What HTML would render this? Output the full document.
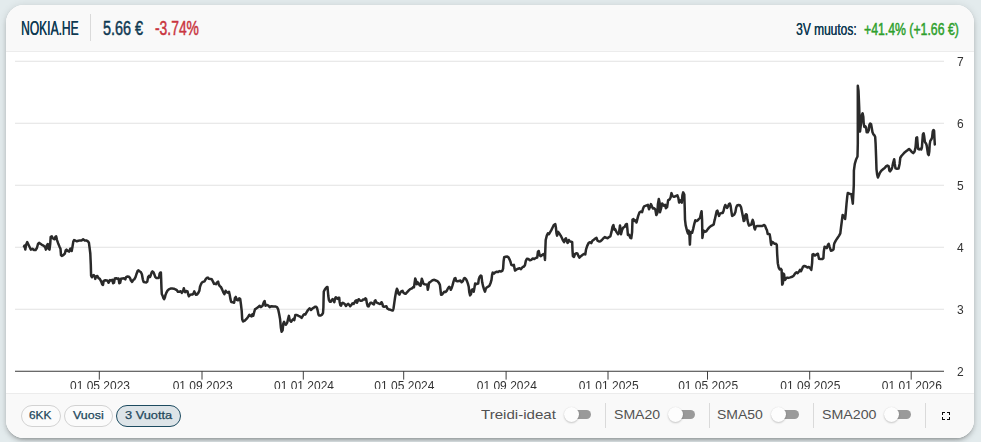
<!DOCTYPE html>
<html lang="fi">
<head>
<meta charset="utf-8">
<title>NOKIA.HE</title>
<style>
  html, body { margin: 0; padding: 0; }
  body {
    width: 981px; height: 442px; overflow: hidden; position: relative;
    background: #e3ebed;
    font-family: "Liberation Sans", sans-serif;
  }
  .card {
    position: absolute; left: 6px; top: 5px; width: 968px; height: 433px;
    background: #ffffff; border-radius: 18px; overflow: hidden;
  }
  .shadow {
    position: absolute; left: 6px; top: 5px; width: 968px; height: 433px;
    border-radius: 18px;
    box-shadow: 0 3px 3px -2px rgba(0,0,0,.2), 0 3px 4px 0 rgba(0,0,0,.14), 0 1px 8px 0 rgba(0,0,0,.12);
  }
  .head {
    position: absolute; left: 0; top: 0; width: 968px; height: 46px;
    background: #f9f9f9; border-bottom: 1px solid #ececec;
  }
  .foot {
    position: absolute; left: 0; top: 388px; width: 968px; height: 44px;
    background: #f9f9f9; border-top: 1px solid #ececec;
  }
  /* condensed header text: Liberation Sans squeezed horizontally */
  .hx {
    position: absolute; white-space: nowrap; line-height: 1;
    display: inline-block;
  }
  .l { transform-origin: 0 0; }
  .w1 { text-shadow: 0.4px 0 0 currentColor; }
  .w2 { -webkit-text-stroke: 0.5px currentColor; }
  .r { transform-origin: 100% 0; }
  .navy { color: #0f3a53; }
  .red { color: #c9353f; }
  .green { color: #2ea02c; }
  .vsep { position: absolute; width: 1px; background: #dadada; }
  svg { position: absolute; left: 0; top: 0; will-change: transform; }
  .btn {
    position: absolute; top: 400px; height: 20px; border: 1px solid #d2d2d2;
    border-radius: 11px; background: #fbfbfb; box-sizing: content-box;
  }
  .btn.on { border: 1.5px solid #1d4b60; background: #dde4e8; top: 399.5px; }
  .ft { position: absolute; white-space: nowrap; line-height: 1; transform-origin: 0 0; display: inline-block; }
  .teal { color: #23485c; -webkit-text-stroke: 0.25px currentColor; }
  .grey { color: #515151; }
  .track { position: absolute; height: 9px; width: 25px; border-radius: 4.5px; background: #9a9a9a; top: 405px; }
  .knob { position: absolute; width: 15px; height: 15px; border-radius: 50%; background: #fdfdfd; top: 401.9px;
          box-shadow: 0 1px 2px rgba(0,0,0,.2), 0 0 1px rgba(0,0,0,.1); }
</style>
</head>
<body>
<div class="shadow"></div>
<div class="card">
  <div class="head"></div>
  <div class="foot"></div>

  <!-- header texts (coordinates relative to card: page x-6, page y-5) -->
  <span id="t1" class="hx l w1 navy" style="transform:scaleX(0.6172);left:15px;top:14.25px;font-size:19.5px;">NOKIA.HE</span>
  <div class="vsep" style="left:84px;top:9px;height:27px;"></div>
  <span id="t2" class="hx l w2 navy" style="transform:scaleX(0.7398);left:96.6px;top:14.25px;font-size:19.5px;">5.66 €</span>
  <span id="t3" class="hx l w2 red" style="transform:scaleX(0.7107);left:148.6px;top:14.25px;font-size:19.5px;">-3.74%</span>
  <span id="t4" class="hx l w1 navy" style="transform:scaleX(0.7127);left:789.7px;top:16.5px;font-size:16.8px;">3V muutos:</span>
  <span id="t5" class="hx l w2 green" style="transform:scaleX(0.731);left:858.2px;top:16.5px;font-size:16.8px;">+41.4% (+1.66 €)</span>

  <!-- chart -->
  <svg id="chart" width="968" height="384" viewBox="6 5 968 384" style="left:0;top:0;">
    <g stroke="#e2e2e2" stroke-width="1" shape-rendering="auto">
      <line x1="15" y1="61.25" x2="944" y2="61.25"/>
      <line x1="15" y1="123.25" x2="944" y2="123.25"/>
      <line x1="15" y1="185.25" x2="944" y2="185.25"/>
      <line x1="15" y1="247.25" x2="944" y2="247.25"/>
      <line x1="15" y1="309.25" x2="944" y2="309.25"/>
    </g>
    <line x1="15" y1="371.25" x2="944" y2="371.25" stroke="#3a3a3a" stroke-width="1"/>
    <g stroke="#3f3f3f" stroke-width="1">
      <line x1="99.3" y1="371" x2="99.3" y2="379.6"/>
      <line x1="202.0" y1="371" x2="202.0" y2="379.6"/>
      <line x1="303.3" y1="371" x2="303.3" y2="379.6"/>
      <line x1="403.7" y1="371" x2="403.7" y2="379.6"/>
      <line x1="506.1" y1="371" x2="506.1" y2="379.6"/>
      <line x1="608.0" y1="371" x2="608.0" y2="379.6"/>
      <line x1="707.5" y1="371" x2="707.5" y2="379.6"/>
      <line x1="809.7" y1="371" x2="809.7" y2="379.6"/>
      <line x1="911.2" y1="371" x2="911.2" y2="379.6"/>
    </g>
    <g font-family="Liberation Sans, sans-serif" font-size="12" fill="#333333">
      <g text-anchor="start">
        <text x="957" y="66">7</text>
        <text x="957" y="128">6</text>
        <text x="957" y="190">5</text>
        <text x="957" y="252">4</text>
        <text x="957" y="314">3</text>
        <text x="957" y="376">2</text>
      </g>
      <g text-anchor="middle" xml:space="preserve">
        <text x="100.0" y="390">01 05 2023</text>
        <text x="202.7" y="390">01 09 2023</text>
        <text x="304.0" y="390">01 01 2024</text>
        <text x="404.4" y="390">01 05 2024</text>
        <text x="506.8" y="390">01 09 2024</text>
        <text x="608.7" y="390">01 01 2025</text>
        <text x="708.2" y="390">01 05 2025</text>
        <text x="810.4" y="390">01 09 2025</text>
        <text x="911.9" y="390">01 01 2026</text>
      </g>
    </g>
    <polyline id="price" fill="none" stroke="#2a2a2a" stroke-width="2.5" stroke-linejoin="round" stroke-linecap="round"
      points="24,246.4 24.5,245.6 25.3,249.6 26.1,244.8 27.2,242.1 28.5,244.8 30.1,248 30.8,249.6 32.4,248.8 34,249.9 35.6,250 36.9,248 38,244 39.1,242.9 40.4,243.7 41.9,244.8 43.5,245.6 45.1,247.2 45.9,249.6 46.7,245.6 47.8,244 48.6,248.8 49.5,249.6 50.2,244 50.7,236.9 51.8,236.4 53,238.5 54.6,239.3 55.4,236.9 56.2,236.4 57,240.1 58.1,243.2 59.4,246.4 60.5,248.8 61,255.1 61.8,255.9 63.3,255.1 64.9,253.5 65.7,250.4 66.5,249.6 68.1,251.1 69.2,251.6 70.2,248.8 71.3,248.5 71.7,251.1 72.4,247.2 73.3,241.6 74.1,240.1 75.2,240.5 76.8,241.3 78.4,240.8 80,240.4 81.6,240.4 83.1,239.3 84.7,240.5 86.3,240.4 87.9,241.3 88.9,242.7 89.5,247.2 90.3,253.5 90.8,264.6 91.1,275.7 91.9,277.3 93,275.4 93.8,275.1 94.7,276.5 95.3,278.9 96.1,276.5 97.4,276 98.5,278.1 99.8,278.9 101.1,281.3 102.2,284.4 103,284.9 103.7,280.8 105.3,280.2 106.6,280.5 107.7,280.8 108.5,282.8 109.6,280.8 110,280.1 111.1,280.5 112.3,279.7 113.1,283.3 114,282.7 114.8,278.5 116.2,278.2 117.4,278.8 118.5,278.5 119.3,283.3 120.2,282.7 121,278.8 122.4,278.5 124.1,278.2 125.3,279.3 126.1,277.1 127.5,276.5 129,276.7 130.1,278.2 130.9,280.5 132.1,281.9 133.2,280.1 134.3,279.3 135.5,277.1 136.6,273.7 137.7,270.8 138.5,270.3 139.6,271.4 140.8,272 141.9,274.2 142.8,279.3 143.6,281.9 145.1,282.2 146.4,282.4 147.3,281.6 148.1,277.1 149,275.9 149.9,277.1 150.7,275.4 151.6,272.5 152.4,271.4 153.6,272.5 154.5,274.8 155.3,277.1 156.4,277.9 158.1,278 159,277.6 159.6,273.7 160.4,272.5 160.9,272.5 161.1,277.6 161.5,288.9 161.8,294 162.6,295.7 163.4,298 164.1,299.1 164.9,297.4 165.4,295.2 166.3,292.9 167.5,290.6 168.8,289.3 170.5,288.6 172.2,288.6 173.9,288.7 175.4,289.3 176.8,290.1 177.9,291.8 179.2,291.8 180.7,291.2 181.8,292.9 183,291.2 183.8,288.2 184.5,290.6 185.2,292.1 186.4,291 187.5,291.4 188.1,294 188.9,296.3 189.8,295.2 190.9,294.6 192.4,294.6 193.5,293.5 194.3,291.4 195.1,293.2 196,294.8 196.9,294.6 198.3,292.9 199.4,290.6 200,286.7 200.9,284.4 201.9,282.5 203,281.9 204.5,281.3 205.6,279.3 206.7,278 207.9,277.6 209,278.8 210.7,279.1 211.8,279.3 213,281.6 214.1,283.9 214.7,283.7 215.9,284.2 217.1,282.5 218.1,281.6 218.8,284.5 219.8,286.2 221,287.1 222.2,289.6 223.2,292.1 224.4,294.2 225.6,290.8 226.6,292.1 227.8,292.7 229,291.8 229.7,294.7 230.4,298.9 231.2,302 232.9,302.3 234.1,302.7 234.9,298.1 235.8,296.9 236.8,299.8 238,300.3 239.2,298.4 240.2,298.9 240.9,304 241.7,310.8 242.2,319.3 243.1,321.5 244.8,320.6 246.5,318.9 248.2,316.7 249.4,314.7 250.4,315.9 251.6,316.4 252.4,314.2 253.3,315.6 254.1,312.5 255,309.4 256.6,308.3 258.3,307.1 259.5,305.7 260.9,307.1 262.6,305.7 263.9,302 264.6,301.1 265.5,305.7 266.8,304.9 268.5,305.7 269.7,307.1 271.4,306.2 273.6,306.6 275.8,306.6 277,307.1 278.2,309.4 279.2,314.2 280.1,319.3 280.9,327.8 281.6,331.7 282.6,330.3 283.3,323.5 284.1,321.8 285,324.4 286,324.7 287.2,322.7 288,319.3 288.9,315.9 289.7,320.1 291.1,321.8 292.3,320.1 293.5,318.9 294.3,320.1 295.3,315 296.9,315 298.5,315.9 300.2,316.7 301.6,317.9 303,315.6 304.1,314.2 305.3,314.5 306.7,312.2 308,310 309.6,308.3 310.9,310 312.6,308.3 314.3,307.4 314.8,306.8 316.2,306.8 317,307.9 317.7,310.7 318.5,314.7 319.3,315.6 320.7,315.5 321.9,314.7 323,313 323.4,307.3 323.6,298.3 323.8,291.5 324.7,289.8 325.8,288.1 327,287 327.5,287 327.9,291.5 328.3,296 328.9,300 329.8,301.7 330.9,301.7 331.7,300 332.6,299.2 333.5,300.5 334.3,302.2 335.1,298.3 335.8,297.2 336.6,298.1 337.4,298.9 338.3,297.7 339.2,297.7 339.6,301.7 340.3,305.1 341.1,305.6 341.9,303.4 342.8,302.8 343.9,303.4 345.1,304.5 346,306 347.1,304.5 348.2,303.9 349.4,305.1 350.2,306.2 351.3,305.1 352.4,303.4 353.6,303.9 354.4,302.8 355.3,301.1 356.4,300.3 357,302.8 357.7,301.1 358.7,299.2 359.8,300.3 360.9,300.8 362.3,300.5 363.2,299.4 364.3,299.6 365.4,298.3 366.2,299.2 366.9,303.4 367.7,306.2 368.6,306.4 369.7,303.9 370.5,302.8 371.7,302.8 372.8,303.9 373.9,304.5 374.7,301.1 375.4,300.3 376.2,302.2 377.3,302.8 378.5,303.4 379.6,303.9 380.7,303.7 381.5,302.2 382.4,303.9 383,306.4 384.1,306.8 385.2,306.4 386.4,306.2 387.2,308.2 388.1,309 389.2,309.6 390.6,309.8 392,310.4 392.9,310.5 393.5,308.5 394.3,302.8 395.1,297.2 396,292.1 396.9,288.7 397.7,290.4 398.3,293.5 399.4,294.7 400.3,292.6 401.4,291.3 402.6,290.9 403.3,292.6 404.5,293.5 405.6,293.8 406.7,292.6 407.9,291.3 409,290.1 410.1,289.2 411.3,288.7 412.4,288.1 413.5,286.7 414,287.1 414.7,282.3 415.2,278.6 416,280.5 416.8,284.2 417.7,282.3 418.7,283.6 419.7,285.4 420.6,285.8 421.2,282.3 421.8,278.8 422.7,281.1 423.4,283.8 424.7,284.2 426.2,284.6 427.2,284.8 427.8,289.8 428.4,287.3 428.9,282.9 430.2,282.1 431.4,281.1 432.6,280.2 434.3,279.8 435.9,280.5 437.4,281.1 438.9,282.9 439.9,284.8 440.5,289.8 441.1,294.8 442.1,294.5 443.3,292.9 444.2,291.7 445.5,292 446.7,290.8 447.9,288.5 449.2,286.7 450.1,287.9 450.8,289.8 451.7,287.9 452.5,285.4 453.5,281.7 454.5,278.6 455.4,278 456.3,281.1 457.5,281.3 459.1,281.1 460.4,280.5 461.6,282.3 462.9,281.1 463.9,278.6 464.7,278 466,279.2 467,281.1 467.9,283.6 468.7,286.7 469.3,292.3 470.1,295.4 471,294.1 471.8,289.8 472.8,289.2 473.7,291.7 474.4,287.9 475.1,283.6 475.9,284.2 477.2,283.8 478.2,283.6 478.8,279.2 479.7,276.7 480.7,275.5 481.5,276.1 482.2,282.3 483.2,286.7 484,289.2 485,291.7 485.9,288.5 486.9,287.3 488.1,286.7 489.4,285.8 490.6,282.9 491.5,279.8 492.1,274.9 492.7,272.6 494,273.6 495.2,272.4 496.8,271.7 498.1,272.1 499.3,271.1 500.8,271.5 502.3,270.9 503.1,268.6 503.6,261.2 504.2,257.2 505.5,256.8 507.3,256.6 508.5,257.4 509.5,259.3 510.5,261.8 511.4,264.9 512.6,265.5 513.9,264.9 514.4,267.9 515.1,270.6 516.6,269.4 518.1,268.7 519.6,268.2 521,269.1 522.5,267.2 524,266.5 525,265 525.9,260.6 526.9,258.8 528.4,259.1 529.9,260.3 531.3,259.9 532.8,258.4 534.3,259.1 535.7,257.9 537.2,257.6 537.9,251.8 538.7,251 539.7,255.4 540.9,256.2 542.1,255 543.5,254 544.6,256.2 545,259.9 545.3,250.3 545.7,240 546.8,235.6 547.9,233.4 549,234.1 550,232.4 551.2,230.4 552.6,227.5 553.8,225 555.3,224.1 555.9,227.5 556.5,233.4 557.1,235.6 558.2,231.9 559.3,233.4 560.7,235.6 561.8,237.8 562.9,240.3 564.1,242.2 565.1,239.3 565.9,238.2 566.6,240.7 567.6,242.9 568.8,240 570,241.5 571.5,241.8 572.2,242.2 572.5,250.3 572.9,256.2 574,256.9 575,254 576.2,253.2 577.4,253.5 578.4,255.9 579.4,257.6 580.9,256.2 582.4,255 583.8,254 585.3,254.4 586,249.6 587.2,245.9 588.7,242.9 590.1,242.2 591.2,243.2 592.4,240.7 593.8,239.7 595.3,238.5 596.5,237.8 597.5,240.7 599,241.5 600.4,241.2 601.9,240 603.4,238.2 604.9,237.1 606.3,237.8 607.8,238.2 609.3,236.8 610.4,236.3 611.5,231.9 612.5,226.8 613.4,225 614.4,229.7 615.1,229.1 616.6,232.1 618.1,234.3 619.1,232.1 620,225.4 620.6,229.1 621,234.3 622.1,229.9 623.2,227.6 624.7,226.9 625.9,224.4 626.9,224 627.4,229.1 627.9,235 629.1,234.7 630.3,237.9 631.3,238.2 632.1,232.1 632.5,219.6 633.5,219.1 634.7,221 635.7,220.3 636.5,222.5 637.2,219.6 638.2,215.9 639.4,212.6 640.9,211.5 642.1,212.2 643.1,208.5 644.1,206.3 646,205.6 647.9,204.9 649,209.3 650,207.1 650.9,204.1 651.9,206.3 652.9,208.5 654.1,208.2 655.3,209.3 656.3,215.1 657.4,212.9 657.9,204.1 658.8,199 659.6,202.6 660,212.2 661.2,207.8 662.2,203.4 663.7,205.6 665.1,204.9 665.9,208.2 667.1,207.1 668.1,200.4 669.6,199.4 670.6,197.5 671.5,193.1 672.5,196 674,196.8 675.9,196 677.4,195.3 678.4,198.2 679.1,202.6 680.3,200.4 681.8,202.6 682.4,195.3 683.2,192.4 684.3,194.6 684.7,207.1 685,219.6 685.7,225.4 686.8,229.9 687.9,233.5 688.7,230.6 689.4,235 689.9,244.6 690.4,235 690.9,232.1 692.1,232.8 693.1,229.1 694.1,224.7 695.3,220.3 696.8,221 697.9,220.3 699,218.8 700,218.1 700.9,213.7 701.6,211.2 702.1,220.3 702.4,237.9 702.9,234.3 703.7,230.6 704.9,231.8 706.3,231.3 707.8,229.1 709.3,227.4 710.7,226.2 712.2,225.4 713.7,224.4 714.4,221 714.7,219.9 715.7,215.4 716.6,211.4 717.4,210.6 718.1,213.1 719,215.9 720,213.7 721.3,213.1 722.7,212.9 723.6,210.8 724.5,206.9 725.3,205 726.1,206.3 727,208 728.1,206.3 729,204 729.8,203.5 730.6,205.7 731.3,210.8 732.1,215.9 733.2,215.4 734.3,214.5 735.4,212 736.2,207.4 737.1,205.4 738.5,205 740,205.2 741.1,207.4 741.9,211.4 742.8,215.9 743.7,221 744.5,220.4 745.1,215.9 746,214.2 746.8,214.8 747.3,219.3 748.2,223.3 749,225.5 750.1,225 751.3,224.6 752.1,221.6 752.7,219.9 753.5,222.1 754.3,227.8 755,229.5 755.8,226.7 756.9,226.1 758.6,226.1 760.3,226.1 762,226.1 763.1,225.5 764.3,225 765.2,226.1 766,228.4 766.9,230.1 767.7,234 768.8,234 769.7,234.4 770.3,238 770.8,242.5 771.2,244.9 772.1,241.9 773.1,242.4 774.6,243.8 776,243.8 776.8,244.9 777.2,254.4 777.8,263.2 778.7,267.6 779.7,269.4 780.9,268.8 781.6,269.9 781.9,277.9 782.2,284.6 782.9,283.1 783.4,273.5 784.1,274.3 784.9,280.1 785.9,278.7 787.1,277.6 788.5,277.9 790.3,277.4 792.2,276.8 793.7,275.7 795.1,273.5 796.3,272.4 797.6,273.2 798.8,271.8 800,269.9 801,271.3 801.8,269.4 802.9,266.9 804.4,265.9 805.9,266.5 807.4,267.6 808.8,266.9 810.3,268.4 811.3,269.9 812.1,263.2 812.5,254.4 813.5,254.1 815,255.6 816.5,254.4 817.9,253.7 819,258.8 820.4,259.1 822.4,259.1 823.4,258.1 823.8,251.5 824.6,246.8 825.6,247.1 826.8,248.2 827.9,244.9 828.7,243.8 829.7,247.1 830.9,250.7 832.4,250.3 833.5,249.3 834.1,244.1 834.6,242.8 835.9,240.4 837.5,238 839.1,235.6 840.3,233.3 841,227.7 841.8,221.4 842.6,215.1 843.8,215.9 845.1,219 845.7,213.5 846.5,204 847.3,196.1 847.8,192.9 849.4,193.7 851.4,194.2 852.2,199.2 852.8,203.7 853.3,194.5 853.8,185 853.9,170.7 854.8,163.9 856.2,159.2 857.5,156.5 857.8,143.6 857.8,85.7 858.5,90.9 859.2,107.2 859.6,122.1 860,131.6 860.7,126.2 861.4,119.4 862,114.6 862.6,113.3 863.3,116.7 863.7,123.5 864.3,126.9 865.3,126.2 866.1,127.6 866.7,132.3 867.7,132.3 868.7,130.5 869.4,124.8 870.2,123.5 871.1,124.2 871.8,128.2 872.5,132.3 873.4,134.3 874.5,135.4 875.2,137.1 875.6,143.6 876.1,157.1 876.5,169.3 877.2,174.8 877.9,177.5 878.8,175.5 879.9,172.7 881.3,170.7 883.3,169.1 884.7,168 886,166.4 887.4,165.5 888.7,166.4 889.4,170.7 890.1,171.4 891.5,169.3 892.4,166.6 893.2,162.6 894.2,159.2 894.8,163.9 895.5,168.4 896.9,168.7 898.6,168.4 899.6,163.9 900.3,157.8 901.6,155.8 903,154.2 904.6,152.4 906.4,151 907.7,150.1 909.1,149 910.5,150.4 911.8,152 913.2,153.1 914.5,151.7 915.5,147.6 915.8,144.4 916.3,137.8 917.1,137.3 917.5,142.4 918.1,149 919.1,149.5 920.2,148.8 921.2,149.5 921.9,147.5 922.4,140.4 922.9,134.3 923.6,133.2 924.2,136.3 924.9,141.9 926,143.4 926.7,145.5 927.3,149.5 928,154.1 928.7,155.1 929.3,151.6 929.7,144.4 930.3,140.9 931.4,139.3 932.1,137.3 932.8,131.2 933.4,130 934.1,130.7 934.4,137.3 934.8,144.4"/>
  </svg>

  <!-- footer controls -->
  <div class="btn" style="left:15px;width:37.5px;"></div>
  <div class="btn" style="left:58.2px;width:46.5px;"></div>
  <div class="btn on" style="left:110px;width:63px;"></div>
  <span id="b1" class="ft teal" style="transform:scaleX(1.0877);left:23.3px;top:404.5px;font-size:10.9px;">6KK</span>
  <span id="b2" class="ft teal" style="transform:scaleX(1.1437);left:67.3px;top:404.5px;font-size:10.9px;">Vuosi</span>
  <span id="b3" class="ft teal" style="transform:scaleX(1.175);left:118.7px;top:404.5px;font-size:10.9px;">3 Vuotta</span>

  <span id="g1" class="ft grey" style="transform:scaleX(1.2485);left:475px;top:404.2px;font-size:12.1px;">Treidi-ideat</span>
  <div class="track" style="left:560px;"></div><div class="knob" style="left:557.7px;"></div>
  <div class="vsep" style="left:599px;top:398px;height:25px;"></div>

  <span id="g2" class="ft grey" style="transform:scaleX(1.1645);left:607.8px;top:404.2px;font-size:12.1px;">SMA20</span>
  <div class="track" style="left:664px;"></div><div class="knob" style="left:661.8px;"></div>
  <div class="vsep" style="left:703px;top:398px;height:25px;"></div>

  <span id="g3" class="ft grey" style="transform:scaleX(1.1570);left:711.4px;top:404.2px;font-size:12.1px;">SMA50</span>
  <div class="track" style="left:768px;"></div><div class="knob" style="left:764.7px;"></div>
  <div class="vsep" style="left:807px;top:398px;height:25px;"></div>

  <span id="g4" class="ft grey" style="transform:scaleX(1.1744);left:815.5px;top:404.2px;font-size:12.1px;">SMA200</span>
  <div class="track" style="left:880px;"></div><div class="knob" style="left:877.8px;"></div>
  <div class="vsep" style="left:919px;top:398px;height:25px;"></div>

  <svg width="8" height="8" viewBox="0 0 8 8" style="left:936px;top:407px;will-change:auto;" shape-rendering="crispEdges">
    <path d="M0.5 3V0.5H3 M5 0.5H7.5V3 M7.5 5V7.5H5 M3 7.5H0.5V5" fill="none" stroke="#0c0c0c" stroke-width="1"/>
  </svg>
</div>

</body>
</html>
